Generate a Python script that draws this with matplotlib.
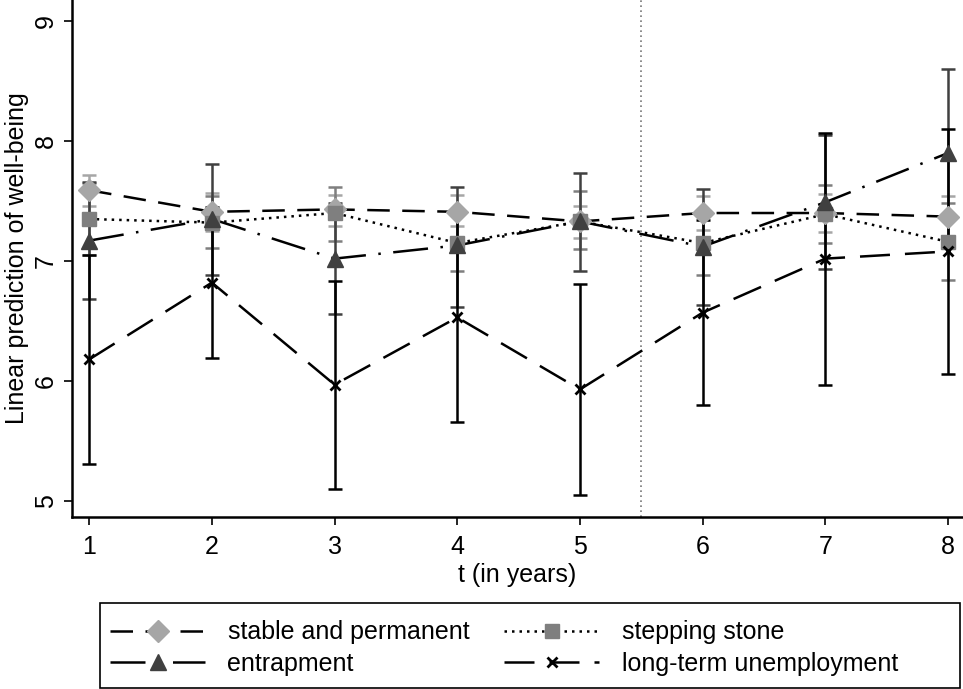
import matplotlib
matplotlib.use("Agg")
import matplotlib.pyplot as plt
from matplotlib.lines import Line2D
from matplotlib.patches import Rectangle
import numpy as np

plt.rcParams['font.family'] = ['Liberation Sans', 'DejaVu Sans']

t = [1, 2, 3, 4, 5, 6, 7, 8]

series_names = ["stable and permanent", "stepping stone", "entrapment", "long-term unemployment"]

stable = [7.59, 7.41, 7.43, 7.41, 7.33, 7.40, 7.40, 7.37]
stable_lo = [7.46, 7.25, 7.29, 7.29, 7.19, 7.26, 7.24, 7.20]
stable_hi = [7.72, 7.57, 7.55, 7.55, 7.46, 7.54, 7.56, 7.54]

stepping = [7.35, 7.32, 7.40, 7.15, 7.33, 7.15, 7.39, 7.16]
stepping_lo = [7.05, 7.11, 7.17, 6.92, 7.10, 6.88, 7.15, 6.84]
stepping_hi = [7.65, 7.54, 7.62, 7.38, 7.58, 7.42, 7.63, 7.48]

entrap = [7.17, 7.35, 7.02, 7.13, 7.33, 7.12, 7.49, 7.90]
entrap_lo = [6.68, 6.88, 6.56, 6.62, 6.92, 6.63, 6.93, 7.20]
entrap_hi = [7.66, 7.81, 7.48, 7.62, 7.73, 7.60, 8.05, 8.60]

longterm = [6.18, 6.82, 5.97, 6.53, 5.93, 6.57, 7.02, 7.08]
longterm_lo = [5.31, 6.19, 5.10, 5.66, 5.05, 5.80, 5.97, 6.06]
longterm_hi = [7.05, 7.45, 6.83, 7.40, 6.81, 7.34, 8.07, 8.10]

yticks = [5, 6, 7, 8, 9]

fig = plt.figure(figsize=(9.63, 6.89), dpi=100)
ax = fig.add_axes([72/963, 1 - 517/689, (963 - 72)/963, 517/689])

specs = [
    (stable, stable_lo, stable_hi, "#a6a6a6", "D", 11, (0, (9, 5)), "#a6a6a6"),
    (stepping, stepping_lo, stepping_hi, "#7f7f7f", "s", 9.5, (0, (1, 2)), "#7f7f7f"),
    (entrap, entrap_lo, entrap_hi, "#404040", "^", 11, (0, (14, 5, 1, 5)), "#404040"),
    (longterm, longterm_lo, longterm_hi, "#000000", "x", 7, (0, (12, 6)), "#000000"),
]

# confidence intervals
for vals, lo, hi, col, mk, ms, ls, ecol in specs:
    v = np.array(vals)
    err = np.vstack([v - np.array(lo), np.array(hi) - v])
    ax.errorbar(t, vals, yerr=err, fmt='none', ecolor=ecol, elinewidth=1.8,
                capsize=5, capthick=1.8, zorder=2)

handles = []
for (vals, lo, hi, col, mk, ms, ls, ecol), name in zip(specs, series_names):
    ax.plot(t, vals, color='black', linestyle=ls, linewidth=1.8, zorder=3)
    mew = 2 if mk == 'x' else 1
    ax.plot(t, vals, linestyle='none', marker=mk, markersize=ms, color=col,
            markeredgecolor=col, markeredgewidth=mew, zorder=4)
    handles.append(Line2D([], [], color='black', linestyle=ls, linewidth=1.8,
                          marker=mk, markersize=ms, markerfacecolor=col,
                          markeredgecolor=col, markeredgewidth=mew))

ax.axvline(5.5, color='#777777', linestyle=(0, (1, 2)), linewidth=1.2, zorder=1)

ax.set_xlim(0.86, 8.122)
ax.set_ylim(4.867, 9.175)
ax.set_xticks(t)
ax.set_yticks(yticks)
ax.tick_params(axis='x', labelsize=18, length=6, width=1.2, direction='out', pad=7)
ax.tick_params(axis='y', labelsize=18, length=6, width=1.2, direction='out', pad=4)
for lab in ax.get_yticklabels():
    lab.set_rotation(90)
    lab.set_va('center')
ax.spines['top'].set_visible(False)
ax.spines['right'].set_visible(False)
ax.spines['left'].set_linewidth(1.8)
ax.spines['bottom'].set_linewidth(1.8)
ax.set_xlabel("t (in years)", fontsize=18, labelpad=3)
ax.set_ylabel("Linear prediction of well-being", fontsize=18, labelpad=4)

# legend: row-wise order (stable, stepping / entrapment, long-term)
order = [0, 2, 1, 3]
leg = fig.legend(handles=[handles[i] for i in order],
                 labels=[series_names[i] for i in order], ncol=2, loc='center left',
                 bbox_to_anchor=(100/963, 1 - 648/689),
                 fontsize=18, frameon=False,
                 handlelength=3.8, columnspacing=1.4, borderaxespad=0.0,
                 handletextpad=0.9, labelspacing=0.3)
fig.add_artist(Rectangle((100/963, 1 - 688/689), 860/963, 85/689,
                         transform=fig.transFigure, fill=False,
                         edgecolor='black', linewidth=1.2))

fig.savefig("out.png", dpi=100)
